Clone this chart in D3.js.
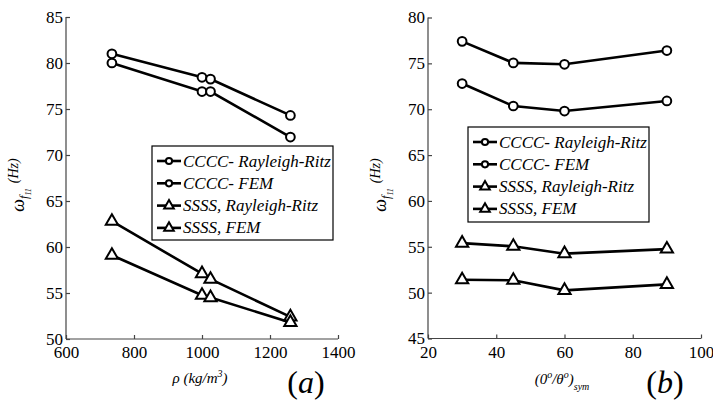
<!DOCTYPE html>
<html><head><meta charset="utf-8">
<script src="https://cdn.jsdelivr.net/npm/d3@7"></script>
<style>body{margin:0;background:#fff}svg{display:block}</style>
</head><body>
<svg id="c" width="713" height="404" style="font-family:'Liberation Serif',serif"></svg>
<script>
// Panel (a): density
const rho = [735, 1000, 1025, 1260];
const aCCCC_RR = [81.0, 78.45, 78.25, 74.3];
const aCCCC_FEM = [80.0, 76.9, 76.9, 71.95];
const aSSSS_RR = [62.8, 57.1, 56.5, 52.4];
const aSSSS_FEM = [59.1, 54.75, 54.5, 51.8];
const aXTicks = [600, 800, 1000, 1200, 1400];
const aYTicks = [50, 55, 60, 65, 70, 75, 80, 85];
// Panel (b): lamination angle
const theta = [30, 45, 60, 90];
const bCCCC_RR = [77.4, 75.05, 74.9, 76.4];
const bCCCC_FEM = [72.8, 70.35, 69.8, 70.9];
const bSSSS_RR = [55.4, 55.05, 54.25, 54.75];
const bSSSS_FEM = [51.4, 51.35, 50.25, 50.9];
const bXTicks = [20, 40, 60, 80, 100];
const bYTicks = [45, 50, 55, 60, 65, 70, 75, 80];
const legendLabels = ["CCCC- Rayleigh-Ritz", "CCCC- FEM", "SSSS, Rayleigh-Ritz", "SSSS, FEM"];
const markers = ["circle", "circle", "triangle", "triangle"];

const FONT = "'Liberation Serif', serif";
const svg = d3.select("#c");

function panel(cfg) {
  const x = d3.scaleLinear().domain(cfg.xd).range(cfg.xr);
  const y = d3.scaleLinear().domain(cfg.yd).range(cfg.yr);
  const g = svg.append("g");
  // axes
  const ax = g.append("g").attr("transform", `translate(0,${cfg.yr[0]})`)
    .call(d3.axisBottom(x).tickValues(cfg.xt).tickSize(-4).tickPadding(7).tickFormat(d3.format("d")));
  const ay = g.append("g").attr("transform", `translate(${cfg.xr[0]},0)`)
    .call(d3.axisLeft(y).tickValues(cfg.yt).tickSize(-4).tickPadding(3).tickFormat(d3.format("d")));
  [ax, ay].forEach(a => {
    a.attr("font-family", null).attr("font-size", 17);
    a.select(".domain").attr("stroke", "#444").attr("stroke-width", 1.2);
    a.selectAll(".tick line").attr("stroke", "#444").attr("stroke-width", 1.2);
    a.selectAll("text").attr("font-size", 17).attr("fill", "#000");
  });
  ax.select(".domain").attr("d", `M${cfg.xr[0]},0H${cfg.xr[1]}`);
  ay.select(".domain").attr("d", `M0,${cfg.yr[0]}V${cfg.yr[1]}`);

  const line = d3.line().x((d, i) => x(cfg.xs[i])).y(d => y(d));
  cfg.series.forEach((s, k) => {
    g.append("path").attr("d", line(s)).attr("fill", "none")
      .attr("stroke", "#000").attr("stroke-width", 2.6);
    const sym = markers[k] === "circle" ? d3.symbolCircle : d3.symbolTriangle;
    const size = markers[k] === "circle" ? 60 : 65;
    g.selectAll(null).data(s).enter().append("path")
      .attr("d", d3.symbol(sym, size))
      .attr("transform", (d, i) => `translate(${x(cfg.xs[i])},${y(d)})`)
      .attr("fill", "#fff").attr("stroke", "#000").attr("stroke-width", 2);
  });

  // legend
  const L = cfg.legend;
  g.append("rect").attr("x", L.x).attr("y", L.y).attr("width", L.w).attr("height", L.h)
    .attr("fill", "#fff").attr("stroke", "#000").attr("stroke-width", 1.2);
  legendLabels.forEach((lab, k) => {
    const cy = L.y + 15 + k * 22.3;
    g.append("line").attr("x1", L.x + 5).attr("x2", L.x + 29).attr("y1", cy).attr("y2", cy)
      .attr("stroke", "#000").attr("stroke-width", 2.6);
    const sym = markers[k] === "circle" ? d3.symbolCircle : d3.symbolTriangle;
    g.append("path").attr("d", d3.symbol(sym, markers[k] === "circle" ? 30 : 40))
      .attr("transform", `translate(${L.x + 17},${cy})`)
      .attr("fill", "#fff").attr("stroke", "#000").attr("stroke-width", 2);
    g.append("text").attr("x", L.x + 31).attr("y", cy + 5.5).text(lab)
      .attr("font-style", "italic").attr("font-size", 17);
  });

  // y label
  const yl = g.append("text").attr("transform", `translate(${cfg.ylx},${cfg.yly}) rotate(-90)`)
    .attr("font-style", "italic").attr("text-anchor", "middle");
  yl.append("tspan").attr("font-size", 18).text("ω");
  yl.append("tspan").attr("font-size", 12).attr("dy", 4).text("f");
  yl.append("tspan").attr("font-size", 8).attr("dy", 3).text("11");
  yl.append("tspan").attr("font-size", 14).attr("dy", -13).attr("dx", 5).text("(Hz)");

  // x label
  const xl = g.append("text").attr("x", cfg.xlx).attr("y", cfg.xly)
    .attr("font-style", "italic").attr("text-anchor", "middle").attr("font-size", 15);
  cfg.xlabel(xl);

  // panel tag
  const t = g.append("text").attr("x", cfg.tagx).attr("y", 393)
    .attr("font-size", 32).attr("text-anchor", "middle");
  t.append("tspan").text("(");
  t.append("tspan").attr("font-style", "italic").text(cfg.tag);
  t.append("tspan").text(")");
}

panel({
  xd: [600, 1400], xr: [66, 338], yd: [50, 85], yr: [339, 17],
  xt: aXTicks, yt: aYTicks, xs: rho,
  series: [aCCCC_RR, aCCCC_FEM, aSSSS_RR, aSSSS_FEM],
  legend: {x: 152, y: 146, w: 181, h: 94},
  ylx: 24, yly: 185, xlx: 200, xly: 383, tagx: 306, tag: "a",
  xlabel: t => {
    t.append("tspan").text("ρ (kg/m");
    t.append("tspan").attr("font-size", 10).attr("dy", -6).text("3");
    t.append("tspan").attr("dy", 6).text(")");
  }
});

panel({
  xd: [20, 100], xr: [428, 701], yd: [45, 80], yr: [338.5, 17.5],
  xt: bXTicks, yt: bYTicks, xs: theta,
  series: [bCCCC_RR, bCCCC_FEM, bSSSS_RR, bSSSS_FEM],
  legend: {x: 468, y: 127, w: 181, h: 95},
  ylx: 386, yly: 185, xlx: 562, xly: 384, tagx: 665, tag: "b",
  xlabel: t => {
    t.append("tspan").text("(0");
    t.append("tspan").attr("font-size", 10).attr("dy", -6).text("o");
    t.append("tspan").attr("dy", 6).text("/θ");
    t.append("tspan").attr("font-size", 10).attr("dy", -6).text("o");
    t.append("tspan").attr("dy", 6).text(")");
    t.append("tspan").attr("font-size", 10).attr("dy", 6).text("sym");
  }
});

// force serif on every text node with inline important style
svg.selectAll("text, tspan").each(function () {
  this.style.setProperty("font-family", "'Liberation Serif', serif", "important");
});
</script>
</body></html>
